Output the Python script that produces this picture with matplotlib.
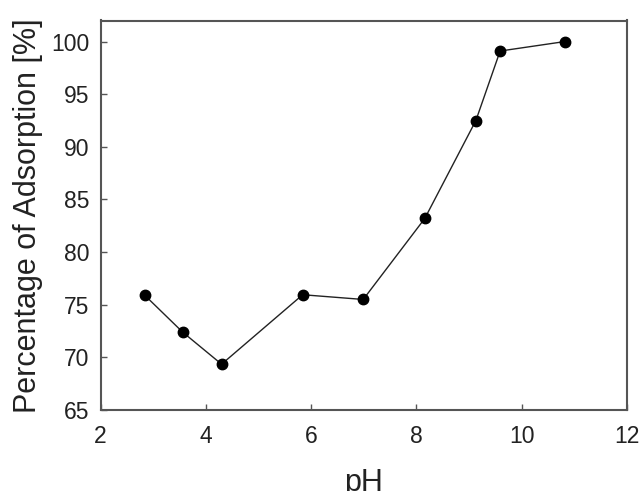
import matplotlib
matplotlib.use("Agg")
import matplotlib.pyplot as plt

ph = [2.84, 3.56, 4.30, 5.84, 6.99, 8.16, 9.13, 9.59, 10.82]
adsorption = [75.9, 72.4, 69.35, 75.95, 75.5, 83.2, 92.5, 99.1, 100.0]
xticks = [2, 4, 6, 8, 10, 12]
yticks = [65, 70, 75, 80, 85, 90, 95, 100]

plt.rcParams['font.family'] = ['Liberation Sans', 'DejaVu Sans']

fig = plt.figure(figsize=(6.40, 4.91), dpi=100)
ax = fig.add_axes([100.5/640, 1 - 410/491, (627-100.5)/640, (410-20.5)/491])

ax.plot(ph, adsorption, color='#222222', lw=1.0, marker='o', ms=7.5,
        mfc='black', mec='black')

ax.set_xlim(2, 12)
ax.set_ylim(65, 102)
ax.set_xticks(xticks)
ax.set_yticks(yticks)
ax.tick_params(direction='in', length=4, width=1, color='#555555',
               labelsize=16.5, labelcolor='#222222', pad=8)
ax.tick_params(axis='x', pad=11)
for s in ax.spines.values():
    s.set_color('#555555')
    s.set_linewidth(1.5)

ax.set_xlabel('pH', fontsize=22, color='#222222', labelpad=14)
ax.set_ylabel('Percentage of Adsorption [%]', fontsize=22, color='#222222', labelpad=6)

fig.savefig('out.png', dpi=100)
